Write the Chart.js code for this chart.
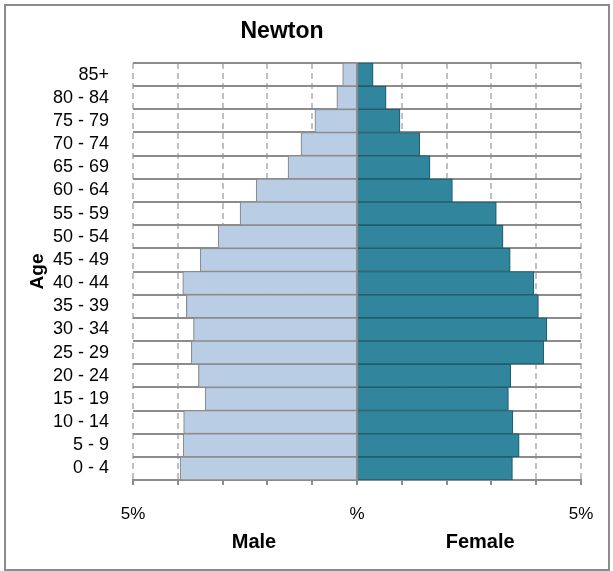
<!DOCTYPE html>
<html>
<head>
<meta charset="utf-8">
<script src="https://cdn.jsdelivr.net/npm/chart.js@4"></script>
<style>
html,body{margin:0;padding:0;background:#fff;}
canvas{display:block;}
</style>
</head>
<body>
<canvas id="c" width="613" height="571"></canvas>
<script>
const chartTitle = 'Newton';
const ageGroups = ['0 - 4','5 - 9','10 - 14','15 - 19','20 - 24','25 - 29','30 - 34','35 - 39','40 - 44','45 - 49','50 - 54','55 - 59','60 - 64','65 - 69','70 - 74','75 - 79','80 - 84','85+'];
const malePct = [3.95,3.88,3.87,3.39,3.54,3.70,3.65,3.81,3.89,3.50,3.10,2.61,2.25,1.54,1.25,0.94,0.45,0.32];
const femalePct = [3.47,3.62,3.48,3.38,3.43,4.17,4.24,4.05,3.95,3.42,3.26,3.11,2.13,1.63,1.40,0.96,0.65,0.36];
const xTickValues = [-5,0,5];
const xTickLabels = ['5%','%','5%'];
const seriesNames = ['Male','Female'];
const yTitle = 'Age';

const FONT = '"Liberation Sans", Arial, sans-serif';

const decor = {
  id: 'decor',
  beforeDraw(chart) {
    const ctx = chart.ctx;
    ctx.save();
    ctx.fillStyle = '#fff';
    ctx.fillRect(0, 0, chart.width, chart.height);
    ctx.restore();
  },
  afterDatasetsDraw(chart) {
    const ctx = chart.ctx;
    const xs = chart.scales.x;
    const a = chart.chartArea;
    const x0 = xs.getPixelForValue(0);
    ctx.save();
    ctx.strokeStyle = '#8c8c8c';
    ctx.lineWidth = 2;
    ctx.beginPath();
    ctx.moveTo(x0, a.top);
    ctx.lineTo(x0, a.bottom + 5);
    ctx.stroke();
    ctx.restore();
  },
  afterDraw(chart) {
    const ctx = chart.ctx;
    const xs = chart.scales.x;
    const a = chart.chartArea;
    ctx.save();
    ctx.strokeStyle = '#8c8c8c';
    ctx.lineWidth = 2;
    ctx.strokeRect(5, 5, 604, 565);
    ctx.fillStyle = '#000';
    ctx.font = 'bold 23px ' + FONT;
    ctx.textAlign = 'center';
    ctx.textBaseline = 'alphabetic';
    ctx.fillText(chartTitle, 282, 38);
    ctx.font = 'bold 20px ' + FONT;
    ctx.fillText(seriesNames[0], xs.getPixelForValue(-2.3), 548);
    ctx.fillText(seriesNames[1], xs.getPixelForValue(2.75), 548);
    ctx.translate(38, (a.top + a.bottom) / 2);
    ctx.rotate(-Math.PI / 2);
    ctx.font = 'bold 19px ' + FONT;
    ctx.textBaseline = 'middle';
    ctx.fillText(yTitle, 0, 0);
    ctx.restore();
  }
};

new Chart(document.getElementById('c'), {
  type: 'bar',
  data: {
    labels: ageGroups,
    datasets: [
      {
        label: seriesNames[0],
        data: malePct.map(v => -v),
        backgroundColor: '#b9cde5',
        borderColor: '#8c8c8c',
        borderWidth: 1.2,
        barPercentage: 1,
        categoryPercentage: 1
      },
      {
        label: seriesNames[1],
        data: femalePct,
        backgroundColor: '#31859c',
        borderColor: '#215e6e',
        borderWidth: 1.2,
        barPercentage: 1,
        categoryPercentage: 1
      }
    ]
  },
  options: {
    indexAxis: 'y',
    responsive: false,
    animation: false,
    events: [],
    layout: { padding: { left: 0, top: 63, right: 32, bottom: 0 } },
    plugins: {
      legend: { display: false },
      title: { display: false },
      tooltip: { enabled: false }
    },
    scales: {
      x: {
        stacked: true,
        min: -5,
        max: 5,
        afterBuildTicks(scale) {
          const t = [];
          for (let v = -5; v <= 5; v++) t.push({ value: v });
          scale.ticks = t;
        },
        afterFit(scale) { scale.height = 91; },
        ticks: {
          autoSkip: false,
          maxRotation: 0,
          padding: 19,
          color: '#000',
          font: { family: FONT, size: 17 },
          callback(v) {
            const i = xTickValues.indexOf(v);
            return i >= 0 ? xTickLabels[i] : '';
          }
        },
        grid: {
          color: '#c0c0c0',
          lineWidth: 2,
          tickLength: 5,
          tickColor: '#8c8c8c',
          tickWidth: 2,
          tickBorderDash: []
        },
        border: { display: true, color: '#8c8c8c', width: 2, dash: [6, 4] }
      },
      y: {
        stacked: true,
        reverse: true,
        afterFit(scale) { scale.width = 133; },
        ticks: {
          autoSkip: false,
          padding: 24,
          color: '#000',
          font: { family: FONT, size: 18 }
        },
        grid: {
          color: '#8c8c8c',
          lineWidth: 2,
          drawTicks: false
        },
        border: { display: false }
      }
    }
  },
  plugins: [decor]
});
</script>
</body>
</html>
